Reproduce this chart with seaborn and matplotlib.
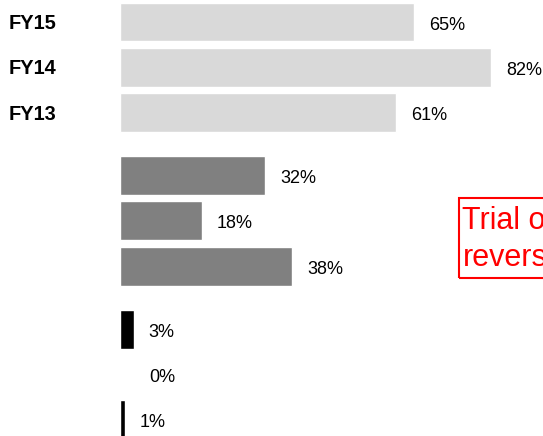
import matplotlib
matplotlib.use("Agg")
import matplotlib.pyplot as plt
import matplotlib.transforms as mtransforms
from matplotlib.patches import Rectangle
import pandas as pd
import seaborn as sns

# Data
years = ["FY15", "FY14", "FY13"]
positive = [65, 82, 61]
neutral = [32, 18, 38]
negative = [3, 0, 1]
group_names = ["positive", "neutral", "negative"]
group_colors = ["#d9d9d9", "#808080", "#000000"]

# Row positions: three rows per group with a wider gap between groups
group_offsets = [0.0, 3.4, 6.8]

rows = []
for g, (name, values) in enumerate(zip(group_names, [positive, neutral, negative])):
    for i, v in enumerate(values):
        rows.append({"group": name, "year": years[i], "value": v,
                     "pos": group_offsets[g] + i})
df = pd.DataFrame(rows)

sns.set_theme(style="white")
plt.rcParams["font.family"] = ["Liberation Sans", "DejaVu Sans"]

W, H, DPI = 543, 436, 100
PT = 72 / DPI  # points per pixel
fig = plt.figure(figsize=(W / DPI, H / DPI), dpi=DPI)
left_px = 120
ax = fig.add_axes([left_px / W, 0, 1 - left_px / W, 1])

sns.barplot(data=df, x="value", y="pos", hue="group", orient="h",
            native_scale=True, dodge=False, palette=dict(zip(group_names, group_colors)),
            hue_order=group_names, width=0.86, legend=False, saturation=1, ax=ax)

px_per_unit = 4.53
ax.set_xlim(0, (W - left_px) / px_per_unit)
slot_px = 45.2
first_center_px = 22
ax.set_ylim((H - first_center_px) / slot_px, -first_center_px / slot_px)
ax.set_axis_off()

# Value labels just past the end of each bar
for _, r in df.iterrows():
    off_px = 15 if r["value"] > 0 else 29
    ax.annotate(f"{r['value']}%", xy=(r["value"], r["pos"]),
                xytext=(off_px * PT, -7.5 * PT), textcoords="offset points",
                ha="left", va="baseline", fontsize=13, color="#000000")

# Year labels on the first group
trans = mtransforms.blended_transform_factory(fig.transFigure, ax.transData)
for i, y in enumerate(years):
    ax.annotate(y, xy=(9 / W, group_offsets[0] + i), xycoords=trans,
                xytext=(0, -7.3 * PT), textcoords="offset points",
                ha="left", va="baseline", fontsize=14.4, fontweight="bold",
                color="#000000")

# Red annotation box
box_x, box_top, box_bot = 459, 198, 278
fig.patches.append(Rectangle((box_x / W, 1 - box_bot / H), (W - box_x + 200) / W,
                             (box_bot - box_top) / H, transform=fig.transFigure,
                             fill=False, edgecolor="#ff0000", linewidth=1.5))
note_lines = ["Trial of", "reversal"]
note_baselines = [229, 266]
for line, base in zip(note_lines, note_baselines):
    fig.text(462.5 / W, 1 - base / H, line, ha="left", va="baseline",
             fontsize=22, color="#ff0000")

fig.savefig("out.png", dpi=DPI)
